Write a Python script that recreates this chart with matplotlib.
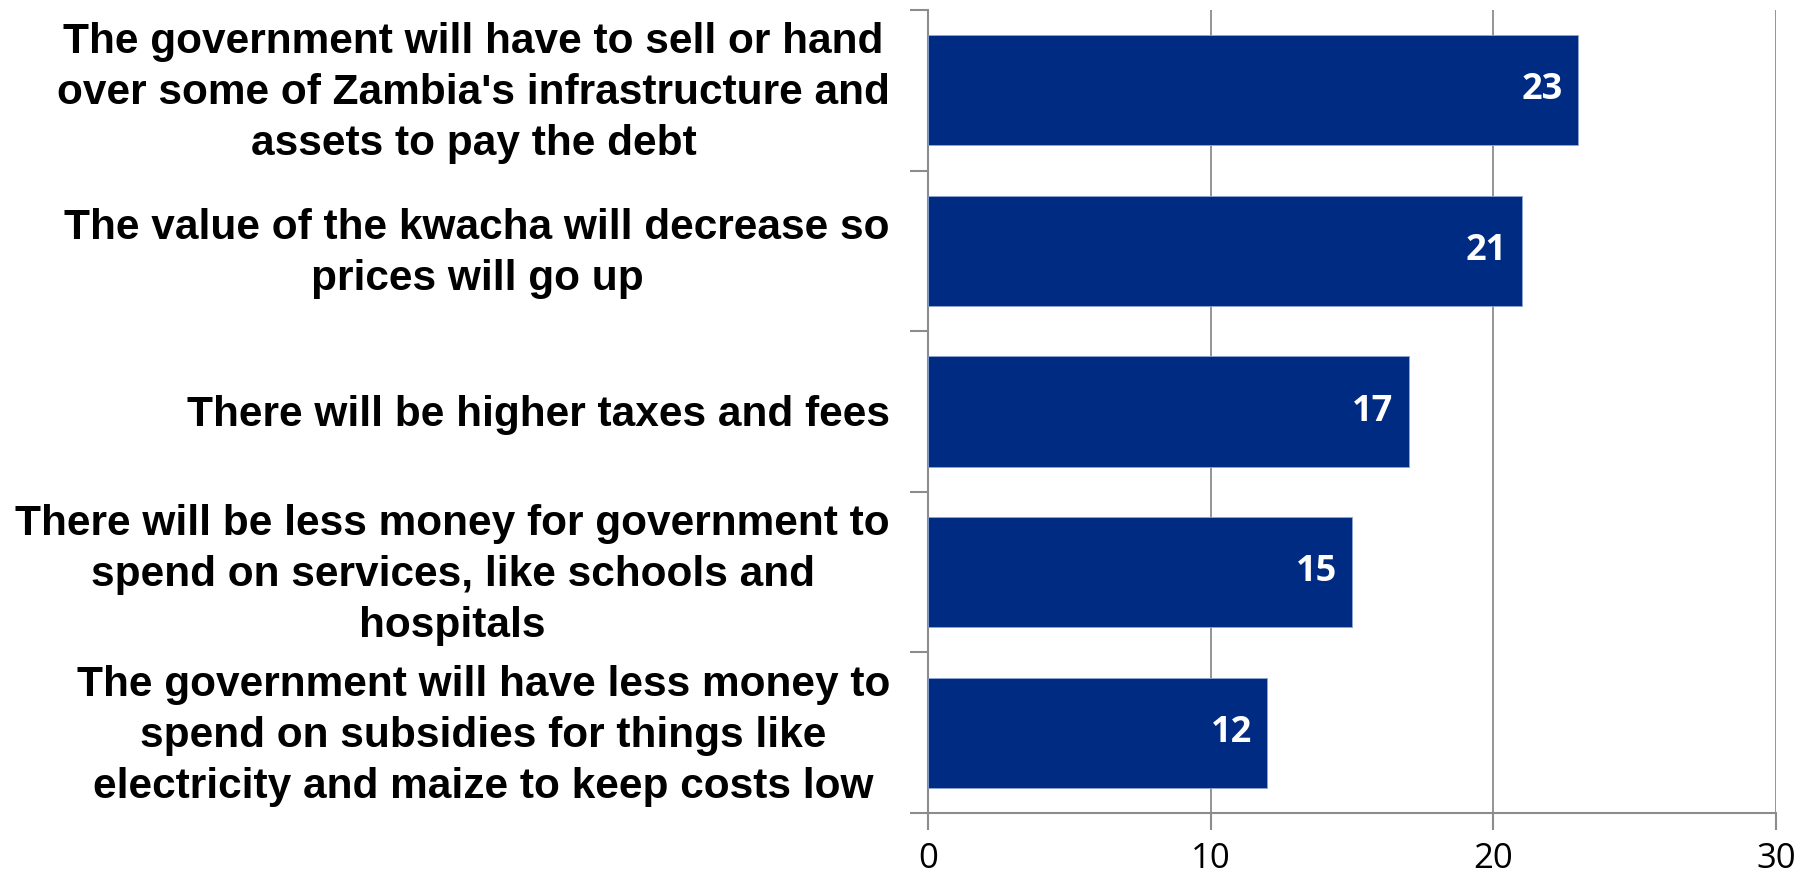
import matplotlib.pyplot as plt
from matplotlib.transforms import offset_copy

# ── Data ──────────────────────────────────────────────────────────────────────
categories = [
    "The government will have to sell or hand\nover some of Zambia's infrastructure and\nassets to pay the debt",
    "The value of the kwacha will decrease so\nprices will go up",
    "There will be higher taxes and fees",
    "There will be less money for government to\nspend on services, like schools and\nhospitals",
    "The government will have less money to\nspend on subsidies for things like\nelectricity and maize to keep costs low",
]
values = [23, 21, 17, 15, 12]
x_ticks = [0, 10, 20, 30]

BAR = "#002B82"
GRID = "#8C8C8C"

fig = plt.figure(figsize=(18.08, 8.76), dpi=100)
ax = fig.add_axes([928 / 1808, 63 / 876, 848 / 1808, 803 / 876])

pos = list(range(len(values)))
ax.barh(pos, values, height=0.685, color=BAR, edgecolor="#8FA6D0", linewidth=0.6, zorder=3)
ax.set_ylim(len(values) - 0.5, -0.5)
ax.set_xlim(0, 30)

# grid + axes styling
ax.set_xticks(x_ticks)
ax.xaxis.grid(True, color=GRID, linewidth=1.3, zorder=0)
for s in ["top", "right"]:
    ax.spines[s].set_visible(False)
for s in ["left", "bottom"]:
    ax.spines[s].set_color(GRID)
    ax.spines[s].set_linewidth(1.5)

# y ticks at category boundaries, labels drawn as text at centres
ax.set_yticks([i - 0.5 for i in range(len(values) + 1)])
ax.set_yticklabels([])
ax.tick_params(axis="y", length=13, width=1.5, color=GRID, direction="out")
ax.tick_params(axis="x", length=12, width=1.5, color=GRID, direction="out",
               labelsize=25, pad=9)
for lab in ax.get_xticklabels():
    lab.set_fontfamily(["Open Sans", "DejaVu Sans"])

for i, cat in enumerate(categories):
    ax.text(0, i, cat, transform=offset_copy(ax.transData, fig=fig, x=-38, y=-3, units="dots"),
            ha="right", va="center", multialignment="center",
            fontsize=30.5, fontweight="bold", family=["Liberation Sans"],
            linespacing=1.36, color="black")

# data labels inside bar ends
for i, v in enumerate(values):
    ax.text(v, i, str(v), transform=offset_copy(ax.transData, fig=fig, x=-15, y=0, units="dots"),
            ha="right", va="center", color="white", fontsize=26, fontweight="bold",
            family=["Open Sans", "DejaVu Sans"], zorder=4)

fig.savefig("out.png", dpi=100)
